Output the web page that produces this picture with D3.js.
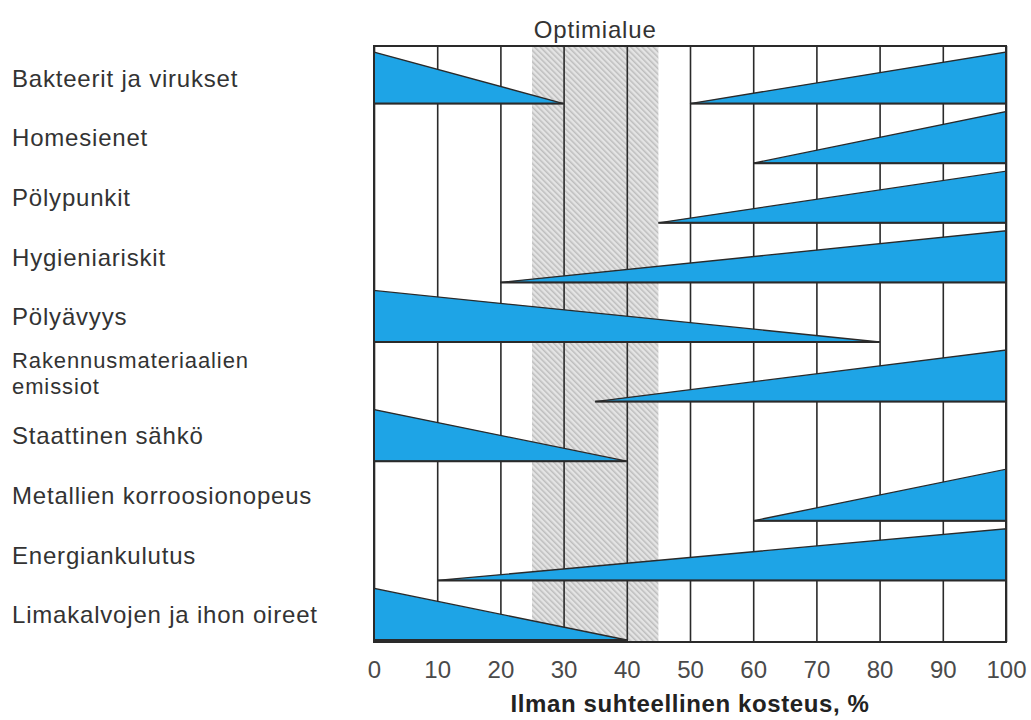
<!DOCTYPE html>
<html>
<head>
<meta charset="utf-8">
<script src="https://cdn.jsdelivr.net/npm/d3@7"></script>
<style>
	body { margin: 0; background: #fff; }
	svg { display: block; font-family: "Liberation Sans", Arial, sans-serif; }
</style>
</head>
<body>
<div id="chart"></div>
<script>
/* global d3 */

// rows, top to bottom
var categories = [
	"Bakteerit ja virukset",
	"Homesienet",
	"Pölypunkit",
	"Hygieniariskit",
	"Pölyävyys",
	"Rakennusmateriaalien\nemissiot",
	"Staattinen sähkö",
	"Metallien korroosionopeus",
	"Energiankulutus",
	"Limakalvojen ja ihon oireet"
];

// wedges: row index, start %, end %, which end is full height
var wedgeRow  = [0, 0, 1, 2, 3, 4, 5, 6, 7, 8, 9];
var wedgeFrom = [0, 50, 60, 45, 20, 0, 35, 0, 60, 10, 0];
var wedgeTo   = [30, 100, 100, 100, 100, 80, 100, 40, 100, 100, 40];
var wedgeWide = ["from", "to", "to", "to", "to", "from", "to", "from", "to", "to", "from"];

var xTicks = [0, 10, 20, 30, 40, 50, 60, 70, 80, 90, 100];
var optimum = [25, 45];

var optimumLabel = "Optimialue";
var xTitle = "Ilman suhteellinen kosteus, %";

(function() {
	'use strict';

	var W = 1031,
		H = 720,
		left = 374,
		right = 1006,
		top = 46,
		bottom = 642,
		blue = "#1ea4e6",
		ink = "#2a2a2a";

	var x = d3.scaleLinear().domain([0, 100]).range([left, right]);
	var y = d3.scaleBand().domain(d3.range(categories.length)).range([top, bottom]);

	var svg = d3.select("#chart").append("svg")
		.attr("width", W)
		.attr("height", H)
		.attr("viewBox", "0 0 " + W + " " + H);

	// hatch for the optimum band
	var defs = svg.append("defs");
	var pat = defs.append("pattern")
		.attr("id", "hatch")
		.attr("patternUnits", "userSpaceOnUse")
		.attr("width", 4)
		.attr("height", 4)
		.attr("patternTransform", "rotate(-45)");
	pat.append("rect").attr("width", 4).attr("height", 4).attr("fill", "#e4e4e4");
	pat.append("rect").attr("width", 1.5).attr("height", 4).attr("fill", "#bdbdbd");

	svg.append("rect")
		.attr("x", x(optimum[0]))
		.attr("y", top)
		.attr("width", x(optimum[1]) - x(optimum[0]))
		.attr("height", bottom - top)
		.attr("fill", "url(#hatch)");

	svg.append("text")
		.attr("x", (x(optimum[0]) + x(optimum[1])) / 2)
		.attr("y", 38)
		.attr("text-anchor", "middle")
		.attr("font-size", 24)
		.attr("letter-spacing", 0.8)
		.attr("fill", "#333")
		.text(optimumLabel);

	// vertical grid
	svg.append("g")
		.attr("transform", "translate(0," + bottom + ")")
		.call(d3.axisBottom(x).tickValues(xTicks).tickSize(-(bottom - top)).tickFormat(""))
		.call(function(g) { g.select(".domain").remove(); })
		.selectAll("line")
		.attr("stroke", ink)
		.attr("stroke-width", 1.6);

	// wedges
	var wedges = wedgeRow.map(function(r, i) {
		return { row: r, from: wedgeFrom[i], to: wedgeTo[i], wide: wedgeWide[i] };
	});

	svg.append("g")
		.selectAll("path")
		.data(wedges)
		.join("path")
		.attr("d", function(d) {
			var yTop = y(d.row) + 6,
				yBase = y(d.row) + y.bandwidth() - 2,
				x0 = x(d.from),
				x1 = x(d.to),
				pts = d.wide === "from"
					? [[x0, yTop], [x0, yBase], [x1, yBase]]
					: [[x0, yBase], [x1, yBase], [x1, yTop]];
			return d3.line()(pts) + "Z";
		})
		.attr("fill", blue)
		.attr("stroke", ink)
		.attr("stroke-width", 1.3)
		.attr("stroke-linejoin", "miter");

	// base lines, a bit heavier
	svg.append("g")
		.selectAll("line")
		.data(wedges)
		.join("line")
		.attr("x1", function(d) { return x(d.from); })
		.attr("x2", function(d) { return x(d.to); })
		.attr("y1", function(d) { return y(d.row) + y.bandwidth() - 2; })
		.attr("y2", function(d) { return y(d.row) + y.bandwidth() - 2; })
		.attr("stroke", ink)
		.attr("stroke-width", 2);

	// frame
	svg.append("rect")
		.attr("x", left)
		.attr("y", top)
		.attr("width", right - left)
		.attr("height", bottom - top)
		.attr("fill", "none")
		.attr("stroke", ink)
		.attr("stroke-width", 2);

	// row labels
	var labels = svg.append("g")
		.selectAll("text")
		.data(categories)
		.join("text")
		.attr("x", 12)
		.attr("y", function(d, i) { return y(i) + y.bandwidth() / 2 + 11; })
		.attr("font-size", 24)
		.attr("letter-spacing", 0.8)
		.attr("fill", "#333");

	// the two-line label: one text per line so they can sit close
	labels.each(function(d, i) {
		var parts = d.split("\n"),
			t = d3.select(this);
		if (parts.length === 1) {
			t.text(d);
			return;
		}
		var yc = y(i) + y.bandwidth() / 2,
			g = d3.select(this.parentNode);
		t.remove();
		parts.forEach(function(p, k) {
			g.append("text")
				.attr("x", 12)
				.attr("y", yc - 6 + k * 26)
				.attr("font-size", 22)
				.attr("letter-spacing", 0.9)
				.attr("fill", "#333")
				.text(p);
		});
	});

	// tick labels
	svg.append("g")
		.attr("transform", "translate(0," + bottom + ")")
		.call(d3.axisBottom(x).tickValues(xTicks).tickSize(0).tickPadding(19))
		.call(function(g) { g.select(".domain").remove(); })
		.selectAll("text")
		.attr("font-family", "Liberation Sans, Arial, sans-serif")
		.attr("font-size", 24)
		.attr("fill", "#4a4a4a");

	svg.append("text")
		.attr("x", (left + right) / 2)
		.attr("y", 712)
		.attr("text-anchor", "middle")
		.attr("font-size", 24)
		.attr("font-weight", "bold")
		.attr("letter-spacing", 0.6)
		.attr("fill", "#222")
		.text(xTitle);
})();
</script>
</body>
</html>
